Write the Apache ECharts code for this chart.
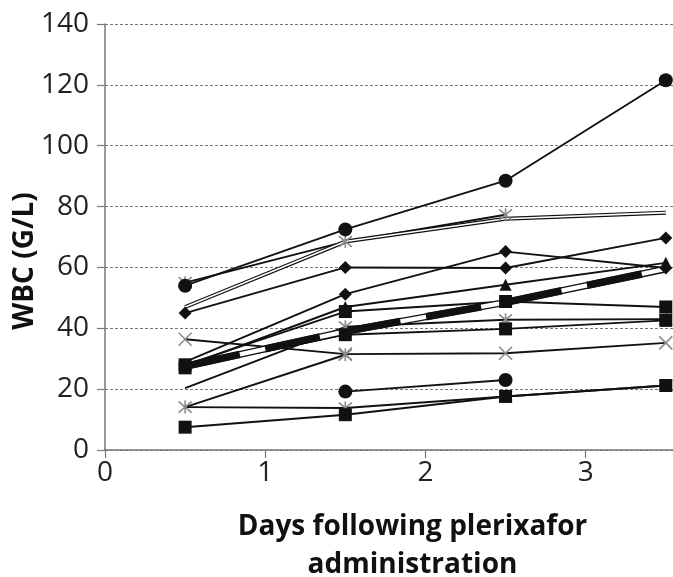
<!DOCTYPE html>
<html><head><meta charset="utf-8">
<script src="https://cdn.jsdelivr.net/npm/echarts@6/dist/echarts.min.js"></script>
<style>html,body{margin:0;padding:0;background:#fff}#c{width:673px;height:577px}</style>
</head><body><div id="c"></div>
<script>
// ---- data ----
const days = [0.5, 1.5, 2.5, 3.5];
const xTicks = [0, 1, 2, 3];
const yTicks = [0, 20, 40, 60, 80, 100, 120, 140];
const xTitle = 'Days following plerixafor\nadministration';
const yTitle = 'WBC (G/L)';

const circleHigh = [54, 72.5, 88.5, 121.5];
const starHigh   = [55, 68.5, 77.3, null];
const doubleLine = [47, 68.5, 76, 78];
const diamondA   = [45, 60, 59.8, 69.7];
const diamondB   = [29, 51.2, 65.2, 59.8];
const triangle   = [27.5, 47, 54.3, 61.5];
const squareA    = [28, 45.5, 48.8, 47];
const squareB    = [27, 37.9, 39.8, 42.6];
const starMid    = [20.3, 40.5, 42.8, 43];
const crossGray  = [36.4, 31.5, 31.8, 35.2];
const starLow    = [14.1, 31.3, null, null];
const starLow2   = [14.1, 13.8, 17.6, 21.2];
const circleLow  = [null, 19.2, 23, null];
const squareLow  = [7.5, 11.6, 17.6, 21.2];
const meanLine   = [27.5, 39, 48.5, 59.5];

// ---- helpers ----
const BLACK = '#111';
const GRAY = '#8a8a8a';
const FONT = 'Open Sans';
const STAR = 'path://M0,0L10,10M10,0L0,10M5,-1L5,11';
const CROSS = 'path://M0,0L10,10M10,0L0,10';

function pts(arr, skip) {
  skip = skip || [];
  return days.map((d, i) => [d, arr[i]])
    .filter((p, i) => p[1] != null && skip.indexOf(i) < 0);
}
function line(arr, w, color, type, z) {
  return {type: 'line', data: pts(arr), symbol: 'none', silent: true, z: z || 2,
    lineStyle: {color: color || BLACK, width: w || 1.9, type: type || 'solid', cap: 'butt', opacity: 1}};
}
function mark(arr, symbol, size, gray, skip) {
  return {type: 'scatter', data: pts(arr, skip), symbol: symbol, symbolSize: size,
    silent: true, z: 5,
    itemStyle: gray ? {color: 'rgba(0,0,0,0)', borderColor: GRAY, borderWidth: 1.6, opacity: 1}
                    : {color: BLACK, borderColor: BLACK, borderWidth: 0, opacity: 1}};
}

const series = [
  line(circleHigh), line(starHigh), line(diamondA), line(diamondB), line(triangle),
  line(squareA), line(squareB), line(starMid), line(crossGray), line(starLow),
  line(starLow2), line(circleLow), line(squareLow),
  // outlined (hollow) line
  line(doubleLine, 4, BLACK), line(doubleLine, 1.6, '#fff', 'solid', 3),
  // mean: outlined thick dashed
  line(meanLine, 7, BLACK, 'solid', 3), line(meanLine, 4.4, '#fff', 'solid', 3),
  line(meanLine, 7.5, BLACK, [56, 26], 4),
  // markers (hidden ones first)
  mark(starMid, STAR, 13, true, [0]),
  mark(starLow2, STAR, 13, true, [0]),
  mark(starHigh, STAR, 13, true),
  mark(starLow, STAR, 13, true),
  mark(crossGray, CROSS, 13, true),
  mark(circleHigh, 'circle', 14),
  mark(circleLow, 'circle', 14),
  mark(diamondA, 'diamond', 13),
  mark(diamondB, 'diamond', 13, false, [0]),
  mark(triangle, 'triangle', 12, false, [0]),
  mark(squareA, 'rect', 13),
  mark(squareB, 'rect', 13),
  mark(squareLow, 'rect', 13)
];

const chart = echarts.init(document.getElementById('c'), null, {renderer: 'canvas'});
chart.setOption({
  animation: false,
  backgroundColor: '#fff',
  grid: {left: 105, top: 24, right: 0, bottom: 127, containLabel: false, outerBoundsMode: 'none'},
  xAxis: {
    type: 'value', min: 0, max: 3.545, interval: 1,
    axisLine: {show: true, lineStyle: {color: '#777', width: 1.5}},
    axisTick: {show: true, length: 8, inside: false, customValues: xTicks, lineStyle: {color: '#777', width: 1.2}},
    axisLabel: {customValues: xTicks, fontSize: 28, color: '#222', fontFamily: FONT, margin: 9},
    splitLine: {show: false},
    name: xTitle, nameLocation: 'middle', nameGap: 58, nameMoveOverlap: false,
    nameTextStyle: {fontSize: 28, fontWeight: 'bold', color: '#111', fontFamily: FONT,
      lineHeight: 38, align: 'center', padding: [0, 0, 0, 47]}
  },
  yAxis: {
    type: 'value', min: 0, max: 140, interval: 20,
    axisLine: {show: true, lineStyle: {color: '#777', width: 1.5}},
    axisTick: {show: true, length: 8, inside: false, customValues: yTicks, lineStyle: {color: '#777', width: 1.2}},
    axisLabel: {customValues: yTicks, fontSize: 28, color: '#222', fontFamily: FONT, margin: 16},
    splitLine: {show: true, lineStyle: {color: '#777', width: 1, type: [3, 2]}},
    name: yTitle, nameLocation: 'middle', nameGap: 66, nameRotate: 90, nameMoveOverlap: false,
    nameTextStyle: {fontSize: 28, fontWeight: 'bold', color: '#111', fontFamily: FONT,
      align: 'center', padding: [0, 48, 0, 0]}
  },
  series: series
});
</script></body></html>
